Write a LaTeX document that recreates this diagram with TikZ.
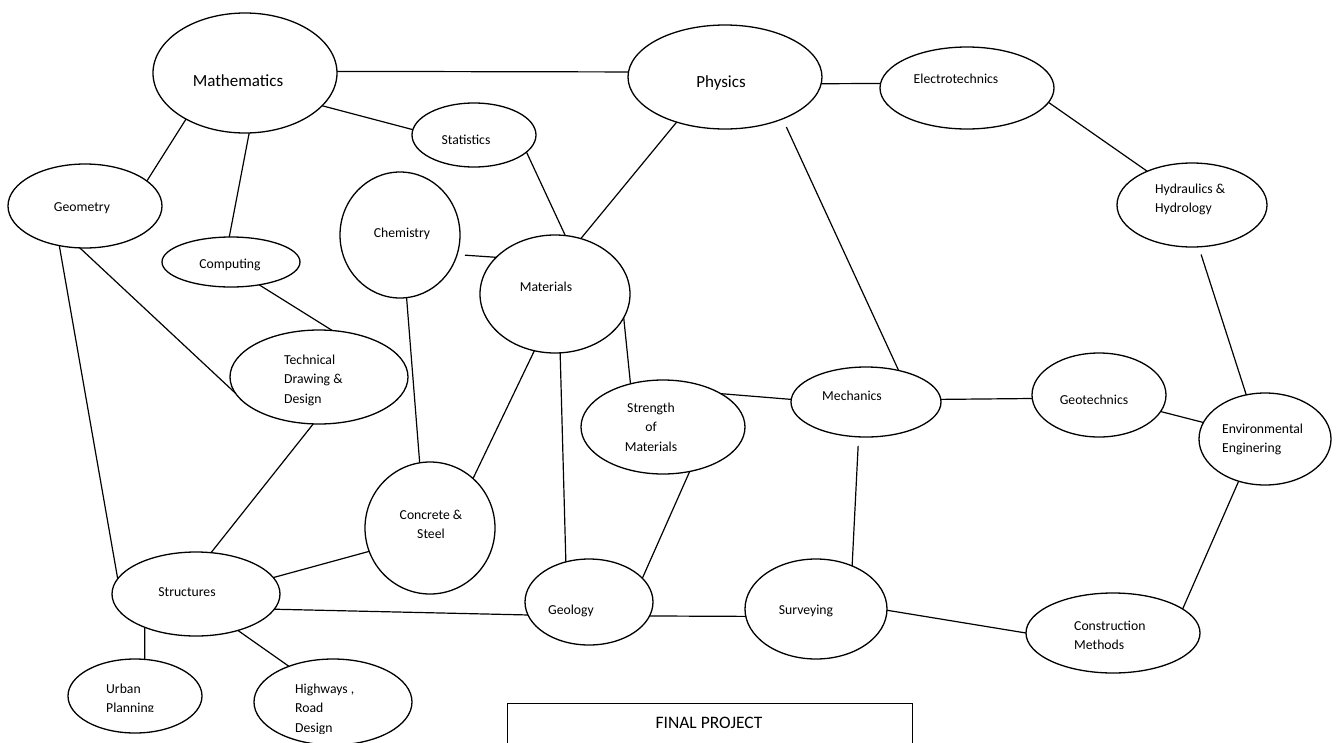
\documentclass[tikz,border=0pt]{standalone}
\usepackage{fontspec}
\setmainfont{Carlito}
\usetikzlibrary{shapes.geometric}
\begin{document}
\begin{tikzpicture}[x=1pt,y=-1pt,
  blob/.style={draw, ellipse, line width=1.3pt, inner sep=0pt, outer sep=0pt},
  link/.style={line width=1.2pt},
  lbl/.style={inner sep=0pt, font=\fontsize{13.7}{19.7}\selectfont},
  biglbl/.style={inner sep=0pt, font=\fontsize{17}{21}\selectfont}]
\clip (0,0) rectangle (1336,742);

% subject ellipses
\node[blob, minimum width=184pt, minimum height=120pt] (math) at (245,73) {};
\node[blob, minimum width=194pt, minimum height=104pt] (phys) at (725,77) {};
\node[blob, minimum width=174pt, minimum height=82pt]  (elec) at (967,88) {};
\node[blob, minimum width=124pt, minimum height=64pt]  (stat) at (474,135) {};
\node[blob, minimum width=154pt, minimum height=84pt]  (geom) at (85,206) {};
\node[blob, minimum width=150pt, minimum height=84pt]  (hydr) at (1192,205) {};
\node[blob, minimum width=120pt, minimum height=126pt] (chem) at (400,235) {};
\node[blob, minimum width=138pt, minimum height=50pt]  (comp) at (231,262) {};
\node[blob, minimum width=150pt, minimum height=118pt] (matl) at (555,294) {};
\node[blob, minimum width=178pt, minimum height=94pt]  (tech) at (319,377) {};
\node[blob, minimum width=164pt, minimum height=94pt]  (stre) at (663,427) {};
\node[blob, minimum width=150pt, minimum height=70pt]  (mech) at (866,402) {};
\node[blob, minimum width=134pt, minimum height=84pt]  (geot) at (1099,395) {};
\node[blob, minimum width=132pt, minimum height=92pt]  (envi) at (1265,439) {};
\node[blob, minimum width=130pt, minimum height=132pt] (conc) at (430,528) {};
\node[blob, minimum width=168pt, minimum height=84pt]  (stru) at (196,594) {};
\node[blob, minimum width=128pt, minimum height=86pt]  (geol) at (589,602) {};
\node[blob, minimum width=142pt, minimum height=100pt] (surv) at (816,609) {};
\node[blob, minimum width=174pt, minimum height=80pt]  (cons) at (1113,633) {};
\node[blob, minimum width=134pt, minimum height=74pt]  (urba) at (135,696) {};
\node[blob, minimum width=158pt, minimum height=86pt]  (high) at (333,702) {};

% labels
\node[biglbl, anchor=base] (math-t) at (238,86) {Mathematics};
\node[biglbl, anchor=base] (phys-t) at (721,87) {Physics};
\node[lbl, anchor=base] (elec-t) at (956,83) {Electrotechnics};
\node[lbl, anchor=base] (stat-t) at (466,144) {Statistics};
\node[lbl, anchor=base] (geom-t) at (82,211) {Geometry};
\node[lbl, anchor=north west, align=left] (hydr-t) at (1155,179.2)
  {\strut Hydraulics \&\\\strut Hydrology};
\node[lbl, anchor=base] (chem-t) at (402,237) {Chemistry};
\node[lbl, anchor=base] (comp-t) at (230,268) {Computing};
\node[lbl, anchor=base] (matl-t) at (546,291) {Materials};
\node[lbl, anchor=north west, align=left] (tech-t) at (284,350.2)
  {\strut Technical\\\strut Drawing \&\\\strut Design};
\node[lbl, anchor=north, align=center] (stre-t) at (651,398.2)
  {\strut Strength\\\strut of\\\strut Materials};
\node[lbl, anchor=base] (mech-t) at (852,400) {Mechanics};
\node[lbl, anchor=base] (geot-t) at (1094,404) {Geotechnics};
\node[lbl, anchor=north west, align=left] (envi-t) at (1222,419.2)
  {\strut Environmental\\\strut Enginering};
\node[lbl, anchor=north, align=center] (conc-t) at (431,505.2)
  {\strut Concrete \&\\\strut Steel};
\node[lbl, anchor=base] (stru-t) at (187,596) {Structures};
\node[lbl, anchor=base] (geol-t) at (571,614) {Geology};
\node[lbl, anchor=base] (surv-t) at (806,614) {Surveying};
\node[lbl, anchor=north west, align=left] (cons-t) at (1074,616.2)
  {\strut Construction\\\strut Methods};
\begin{scope}
  \clip (60,670) rectangle (210,711);
  \node[lbl, anchor=north west, align=left] (urba-t) at (106,679.2)
    {\strut Urban\\\strut Planning};
\end{scope}
\begin{scope}
  \clip (250,670) rectangle (420,733.5);
  \node[lbl, anchor=north west, align=left] (high-t) at (295,679.2)
    {\strut Highways ,\\\strut Road\\\strut Design};
\end{scope}

% final project box
\node[draw, line width=1pt, rectangle, inner sep=0pt, anchor=north west,
      minimum width=405pt, minimum height=60pt] (final) at (507,703) {};
\node[inner sep=0pt, anchor=base, font=\fontsize{17.5}{21}\selectfont]
  (final-t) at (709,728) {FINAL PROJECT};

% connections
\draw[link] (math.1) -- (phys.177);
\draw[link] (math.337) -- (stat.175);
\draw[link] (math.218) -- (geom.22);
\draw[link] (math.274) -- (comp.94);
\draw[link] (geom.237) -- (stru.169);
\draw[link] (geom.263) -- (tech.191);
\draw[link] (comp.321) -- (tech.74);
\draw[link] (chem.276) -- (conc.99);
\draw[link, shorten <=8pt] (chem.341) -- (matl.148);
\draw[link] (stat.342) -- (matl.80);
\draw[link] (phys.223) -- (matl.65);
\draw[link] (phys.356) -- (elec.177);
\draw[link, shorten <=9pt] (phys.324) -- (mech.44);
\draw[link] (elec.350) -- (hydr.143);
\draw[link, shorten <=8pt] (hydr.279) -- (envi.113);
\draw[link] (matl.341) -- (stre.127);
\draw[link] (matl.250) -- (conc.49);
\draw[link] (matl.275) -- (geol.120);
\draw[link] (stre.30) -- (mech.178);
\draw[link] (stre.301) -- (geol.24);
\draw[link] (mech.2) -- (geot.183);
\draw[link, shorten <=9pt] (mech.258) -- (surv.50);
\draw[link] (geot.345) -- (envi.165);
\draw[link] (envi.238) -- (cons.19);
\draw[link] (tech.263) -- (stru.70);
\draw[link] (stru.12) -- (conc.201);
\draw[link] (stru.349) -- (geol.192);
\draw[link] (stru.213) -- (urba.75);
\draw[link] (stru.319) -- (high.141);
\draw[link] (geol.347) -- (surv.186);
\draw[link] (surv.359) -- (cons.180);
\end{tikzpicture}
\end{document}
